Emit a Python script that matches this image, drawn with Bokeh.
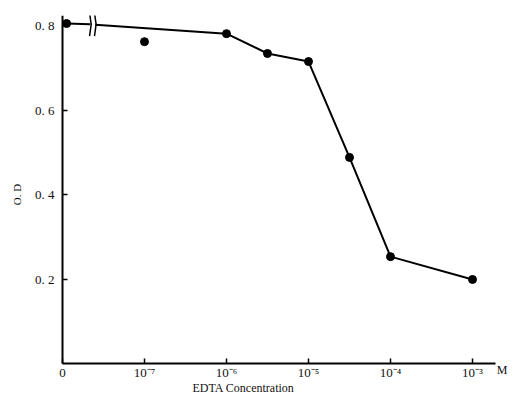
from bokeh.plotting import figure
from bokeh.models import Range1d, FixedTicker, Label
from bokeh.embed import file_html
from bokeh.resources import INLINE

# x positions are log10 of concentration; -8 stands for the "0" origin
conc_log = [-7.95, -6.0, -5.5, -5.0, -4.5, -4.0, -3.0]
od = [0.805, 0.781, 0.734, 0.715, 0.488, 0.253, 0.199]
# isolated point at 10^-7 (not connected)
iso_log = [-7.0]
iso_od = [0.762]
# axis-break location on the first segment
break_left = -7.66
break_right = -7.60
tick_pos = [-8, -7, -6, -5, -4, -3]
tick_labels = ["0", "10\u207b\u2077", "10\u207b\u2076", "10\u207b\u2075", "10\u207b\u2074", "10\u207b\u00b3"]
y_ticks = [0.2, 0.4, 0.6, 0.8]
y_tick_labels = ["0. 2", "0. 4", "0. 6", "0. 8"]
x_title = "EDTA  Concentration"
x_unit = "M"
y_title = "O. D"

FONT = "Liberation Serif"

p = figure(output_backend="svg", toolbar_location=None,
           x_range=Range1d(-8.756, -2.488), y_range=Range1d(-0.0805, 0.824),
           min_border_left=0, min_border_right=0, min_border_top=15, min_border_bottom=0)
p.frame_width = 514
p.frame_height = 382
p.outline_line_color = None
p.grid.visible = False
p.background_fill_color = "white"

for ax in (p.xaxis[0], p.yaxis[0]):
    ax.axis_line_color = "black"
    ax.axis_line_width = 2
    ax.major_tick_in = 5
    ax.major_tick_out = 0
    ax.major_tick_line_width = 1.5
    ax.minor_tick_line_color = None
    ax.major_label_text_font = FONT
    ax.major_label_text_font_size = "13px"
    ax.major_label_text_color = "#111111"

p.xaxis.fixed_location = 0
p.xaxis.bounds = (-8, -2.72)
p.xaxis.ticker = FixedTicker(ticks=tick_pos)
p.xaxis.major_label_overrides = {t: l for t, l in zip(tick_pos, tick_labels)}
p.xaxis.major_label_standoff = 1
p.yaxis.fixed_location = -8
p.yaxis.bounds = (0, 0.824)
p.yaxis.ticker = FixedTicker(ticks=y_ticks)
p.yaxis.major_label_overrides = {t: l for t, l in zip(y_ticks, y_tick_labels)}
p.yaxis.major_label_standoff = 8

# connected curve with axis break
p.line([conc_log[0], break_left], [od[0], od[0] - 0.002], line_color="black", line_width=2)
p.line([break_right] + conc_log[1:], [od[0] - 0.003] + od[1:], line_color="black", line_width=2)
# break marks
for bx in (break_left, break_right):
    p.line([bx - 0.01, bx + 0.01, bx - 0.01], [od[0] - 0.03, od[0] - 0.002, od[0] + 0.025],
           line_color="black", line_width=1.5)

p.scatter(conc_log, od, size=8, color="black")
p.scatter(iso_log, iso_od, size=8, color="black")

p.add_layout(Label(x=-6.415, y=-0.059, text=x_title, text_font=FONT,
                   text_font_size="12px", text_align="left", text_baseline="middle",
                   text_color="#111111"))
p.add_layout(Label(x=-2.64, y=-0.015, text=x_unit, text_font=FONT,
                   text_font_size="12px", text_align="center", text_baseline="middle",
                   text_color="#111111"))
p.add_layout(Label(x=-8.55, y=0.40, text=y_title, text_font=FONT, angle=1.5708,
                   text_font_size="11px", text_align="center", text_baseline="middle",
                   text_color="#111111"))

open("out.html", "w").write(file_html(p, INLINE))
